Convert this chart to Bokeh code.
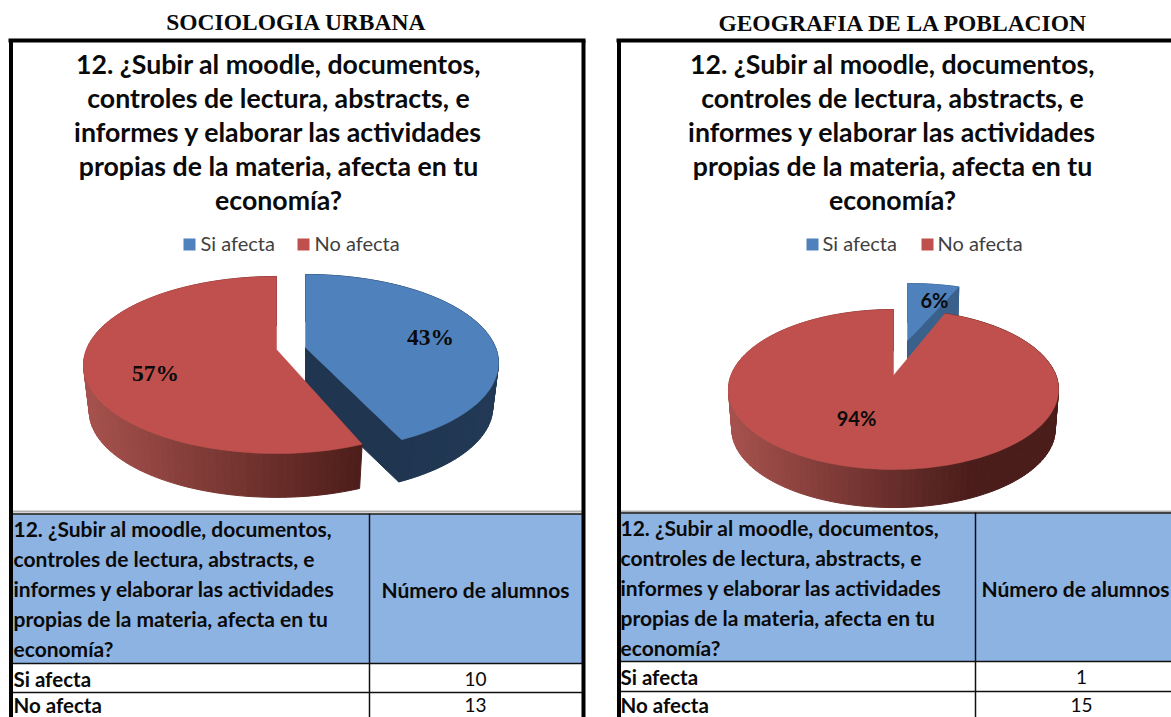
import math
from bokeh.plotting import figure
from bokeh.models import Range1d
from bokeh.core.properties import value
from bokeh.embed import file_html
from bokeh.resources import INLINE

# ---- data ----
course_titles = ["SOCIOLOGIA URBANA", "GEOGRAFIA DE LA POBLACION"]
question_lines = ["12. ¿Subir al moodle, documentos,", "controles de lectura, abstracts, e",
                  "informes y elaborar las actividades", "propias de la materia, afecta en tu", "economía?"]
table_lines = ["12. ¿Subir al moodle, documentos,", "controles de lectura, abstracts, e",
               "informes y elaborar las actividades", "propias de la materia, afecta en tu", "economía?"]
count_header = "Número de alumnos"
categories = ["Si afecta", "No afecta"]
counts_sociologia = [10, 13]
counts_geografia = [1, 15]
percent_sociologia = [43, 57]
percent_geografia = [6, 94]

BLUE, BLUE_D1, BLUE_D2 = "#4f81bd", "#1f3550", "#3a608c"
RED = "#c0504d"
HEAD = "#8db3e2"

W, H = 1171, 717
p = figure(width=W, height=H, x_range=Range1d(0, W), y_range=Range1d(H, 0),
           x_axis_type=None, y_axis_type=None, toolbar_location=None, output_backend="svg",
           min_border=0, outline_line_color=None, background_fill_color="white")
p.grid.visible = False

K = 0.175
def proj(theta_deg, R, B):
    t = math.radians(theta_deg)
    s, u = math.sin(t), -math.cos(t)
    w = 1 - K * u
    return R * s / w, B * u / w

def arc(a0, a1, R, B, step=2.0):
    n = max(2, int(abs(a1 - a0) / step) + 1)
    return [proj(a0 + (a1 - a0) * i / (n - 1), R, B) for i in range(n)]

def lerp(c0, c1, t):
    t = max(0.0, min(1.0, t))
    return "#%02x%02x%02x" % tuple(int(round(a + (b - a) * t)) for a, b in zip(c0, c1))

def slice3d(ax, ay, a0, a1, R, B, depth, bscale, top, wall_fn, face=None):
    pts = arc(a0, a1, R, B)
    xs, ys, cols = [], [], []
    for (x0, y0), (x1, y1) in zip(pts[:-1], pts[1:]):
        xs.append([ax + x0, ax + x1, ax + bscale * x1, ax + bscale * x0])
        ys.append([ay + y0, ay + y1, ay + depth + bscale * y1, ay + depth + bscale * y0])
        cols.append(wall_fn(ax + (x0 + x1) / 2))
    if face is not None:
        ex, ey = proj(a1, R, B)
        xs.append([ax, ax + ex, ax + bscale * ex, ax])
        ys.append([ay, ay + ey, ay + depth + bscale * ey, ay + depth])
        cols.append(face)
    p.patches(xs, ys, fill_color=cols, line_color=cols, line_width=1)
    p.patch([ax] + [ax + x for x, _ in pts], [ay] + [ay + y for _, y in pts],
            fill_color=top, line_color=top, line_width=0.5)

R_L, R_R = (166, 81, 77), (78, 30, 26)

# Pie 1
b_end = percent_sociologia[0] * 3.6
slice3d(305, 347, 0, b_end, 190, 85.8, 45, 0.97, BLUE,
        lambda x: lerp((31, 53, 80), (34, 57, 85), (x - 400) / 95), face=BLUE_D1)
slice3d(276, 349, b_end + 3, 360, 190, 85.8, 47, 0.97, RED,
        lambda x: lerp(R_L, R_R, (x - 85) / 273))

# Pie 2
b_end2 = percent_geografia[0] * 3.6
slice3d(907, 340, 0, b_end2, 162, 67, 38, 0.98, BLUE,
        lambda x: BLUE_D2, face=BLUE_D2)
slice3d(893, 375, b_end2, 360, 162.5, 77.5, 40, 0.98, RED,
        lambda x: lerp(R_L, (74, 29, 26), (x - 730) / 240))

# Table fills, frames and rules
p.quad(left=[12, 620], right=[582, W], top=[514, 513], bottom=[663, 661],
       fill_color=HEAD, line_color=None)
p.segment(x0=[12, 620], y0=[511, 511], x1=[582, W], y1=[511, 511], line_color="#b0b0b0", line_width=2)
p.segment(x0=[12, 12, 12, 620, 620, 620, 369, 975],
          y0=[513.5, 663, 692, 512.5, 661, 691, 513, 512],
          x1=[582, 582, 582, W, W, W, 369, 975],
          y1=[513.5, 663, 692, 512.5, 661, 691, H, H],
          line_color="#101010", line_width=1.5)
p.segment(x0=[8, 10.5, 583, 616, 618.5], y0=[40, 40, 40, 40, 40],
          x1=[585, 10.5, 583, W, 618.5], y1=[40, H, H, 40, H],
          line_color="black", line_width=4)

def txt(x, y, s, size, font="Lato", style="bold", color="#0a0a0a", align="center"):
    p.text(x=[x], y=[y], text=[s], text_font=value(font), text_font_style=style,
           text_font_size=f"{size}px", text_color=color, text_align=align, text_baseline="middle")

# Course titles
txt(296, 21, course_titles[0], 23.5, "Liberation Serif")
txt(903, 22, course_titles[1], 23.5, "Liberation Serif")

# Chart titles
for i, line in enumerate(question_lines):
    txt(278, 63.5 + 34 * i, line, 26.7)
    txt(892, 63.5 + 34 * i, line, 26.7)

# Legends
for bx, tx, cat, col in [(183, 200, categories[0], BLUE), (297, 314, categories[1], RED),
                         (806, 822, categories[0], BLUE), (921, 937, categories[1], RED)]:
    p.quad(left=[bx], right=[bx + 12], top=[238], bottom=[250], fill_color=col, line_color=None)
    txt(tx, 242.5, cat, 20, style="normal", color="#404040", align="left")

# Pie labels
txt(430, 336, f"{percent_sociologia[0]}%", 23.5, "Liberation Serif")
txt(155, 372, f"{percent_sociologia[1]}%", 23.5, "Liberation Serif")
txt(934, 299.5, f"{percent_geografia[0]}%", 20)
txt(856, 417.5, f"{percent_geografia[1]}%", 20)

# Tables
for i, line in enumerate(table_lines):
    txt(13, 527.5 + 30 * i, line, 21, align="left")
    txt(620, 526.5 + 30 * i, line, 21, align="left")
txt(475, 588.5, count_header, 21)
txt(1075, 587.5, count_header, 21)
for (x0, xc, ys, vals) in [(13, 475, (678, 704), counts_sociologia), (620, 1081, (676.5, 704), counts_geografia)]:
    for yy, cat, v in zip(ys, categories, vals):
        txt(x0, yy, cat, 20.5, align="left")
        txt(xc, yy, str(v), 19, style="normal")

open("out.html", "w").write(file_html(p, INLINE))
